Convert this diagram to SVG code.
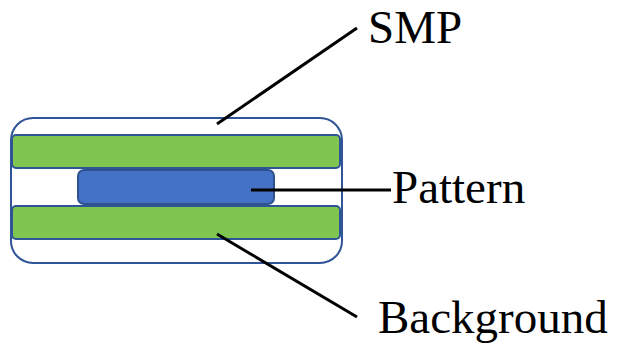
<svg xmlns="http://www.w3.org/2000/svg" width="619" height="345" viewBox="0 0 619 345">
<style>
.lbl{font-family:"Liberation Serif","Times New Roman",serif;font-size:47px;fill:#000}
.lead{stroke:#000;stroke-width:3;fill:none}
.layer{fill:#7EC650;stroke:#2F5597;stroke-width:2}
</style>
<rect width="619" height="345" fill="#fff"/>
<g id="smp-body">
<rect x="11" y="118" width="331" height="145" rx="22" ry="22" fill="#fff" stroke="#2F5597" stroke-width="2"/>
</g>
<g id="top-layer">
<rect class="layer" x="12" y="135" width="328" height="33" rx="4"/>
</g>
<g id="pattern">
<rect x="78" y="170" width="196" height="34" rx="6" fill="#4472C4" stroke="#2F528F" stroke-width="2"/>
</g>
<g id="bottom-layer">
<rect class="layer" x="12" y="206" width="328" height="33" rx="4"/>
</g>
<g id="connectors">
<line class="lead" x1="217" y1="124" x2="357" y2="28"/>
<line class="lead" x1="251" y1="190" x2="391" y2="190"/>
<line class="lead" x1="217" y1="234" x2="357" y2="317"/>
</g>
<g id="labels">
<text class="lbl" x="368" y="43">SMP</text>
<text class="lbl" x="392" y="203">Pattern</text>
<text class="lbl" x="378" y="333">Background</text>
</g>
</svg>
